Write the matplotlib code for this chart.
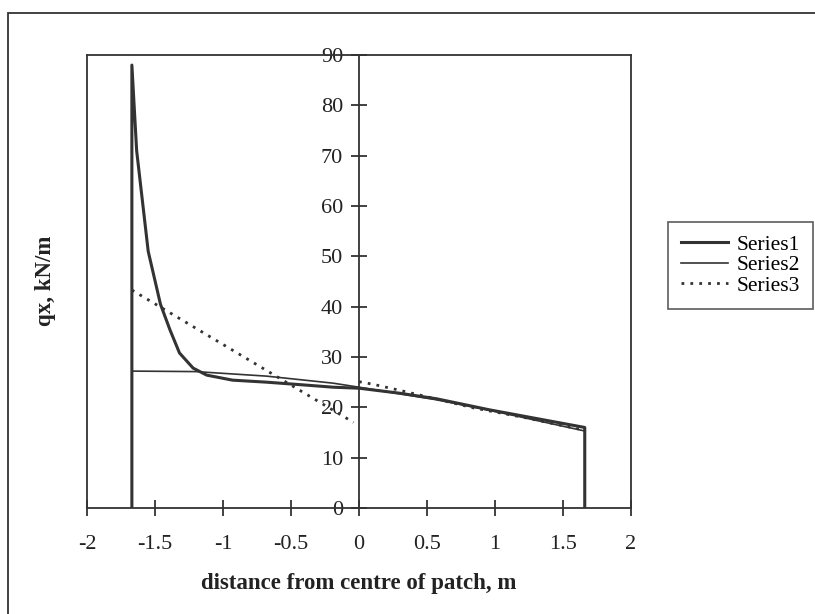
import numpy as np
import matplotlib
matplotlib.use("Agg")
import matplotlib.pyplot as plt
from matplotlib.patches import Rectangle

plt.rcParams['font.family'] = ['Liberation Serif', 'DejaVu Serif']

# distance from centre of patch (m) vs qx (kN/m)
s1_x = [-1.67, -1.67, -1.635, -1.55, -1.46, -1.39, -1.32, -1.22, -1.12, -0.93, -0.68, -0.43, -0.19, 0.0, 0.3, 0.57, 0.96, 1.3, 1.66, 1.66]
s1_y = [0, 88, 71, 51, 40.5, 35.4, 30.8, 27.8, 26.4, 25.4, 25.0, 24.5, 24.0, 23.8, 22.8, 21.7, 19.5, 17.8, 16.0, 0]

s2_x = [-1.67, -1.67, -1.2, -0.68, -0.19, 0.0, 0.57, 1.0, 1.66, 1.66]
s2_y = [0, 27.2, 27.1, 26.2, 24.8, 24.0, 21.5, 19.2, 15.3, 0]

s3_x = [-1.67, -0.04, np.nan, 0.0, 0.1, 0.28, 0.5, 0.84, 1.23, 1.65]
s3_y = [43.3, 17.0, np.nan, 25.1, 24.6, 23.5, 22.1, 19.9, 17.9, 15.5]

xticks = [-2, -1.5, -1, -0.5, 0, 0.5, 1, 1.5, 2]
yticks = [0, 10, 20, 30, 40, 50, 60, 70, 80, 90]

ink = '#333333'

fig = plt.figure(figsize=(8.15, 6.14), dpi=100)
# outer chart border
fig.add_artist(Rectangle((8 / 815, -0.1), 1.2, 1.1 - 13 / 614, transform=fig.transFigure,
                         fill=False, edgecolor=ink, lw=1.3))

ax = fig.add_axes([87 / 815, 1 - 508 / 614, 544 / 815, 453 / 614])

l1, = ax.plot(s1_x, s1_y, color=ink, lw=2.2, label='Series1')
l2, = ax.plot(s2_x, s2_y, color=ink, lw=1.2, label='Series2')
l3, = ax.plot(s3_x, s3_y, color=ink, lw=2.0, linestyle=(0, (1, 2.2)), label='Series3')

ax.set_xlim(-2, 2)
ax.set_ylim(0, 90)
ax.spines['left'].set_position(('data', 0))
for s in ax.spines.values():
    s.set_color(ink)
    s.set_linewidth(1.3)
ax.axvline(-2, color=ink, lw=1.3, clip_on=False)

ax.set_xticks(xticks)
ax.set_xticklabels([f'{t:g}' for t in xticks])
ax.set_yticks(yticks)
ax.tick_params(axis='both', direction='inout', length=11, width=1.3, color=ink,
               labelsize=16, labelcolor='#222222')
ax.tick_params(axis='x', pad=14)
ax.tick_params(axis='y', pad=6)

fig.text(359 / 815, 1 - 583 / 614, 'distance from centre of patch, m', fontsize=16.5,
         fontweight='bold', ha='center', va='center', color='#222222')
fig.text(46 / 815, 1 - 281 / 614, 'qx, kN/m', rotation=90, fontsize=16.5, fontweight='bold',
         ha='center', va='center', color='#222222')

leg = fig.legend(handles=[l1, l2, l3], loc='upper left', bbox_to_anchor=(668 / 815, 1 - 222 / 614),
                 fontsize=15.5, frameon=True, fancybox=False, handlelength=2.2, handletextpad=0.4,
                 borderpad=0.6, labelspacing=0.02, borderaxespad=0)
leg.get_frame().set_edgecolor(ink)
leg.get_frame().set_linewidth(1.2)

fig.savefig('out.png', dpi=100)
